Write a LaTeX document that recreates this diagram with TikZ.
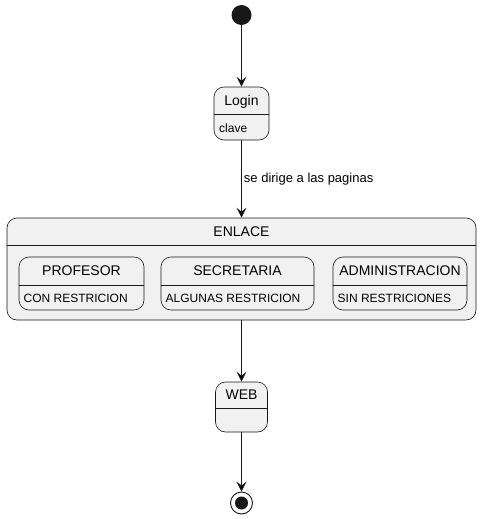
\documentclass[tikz,border=0pt]{standalone}
\usepackage{fontspec}
\setmainfont{Liberation Sans}
\usepackage{tikz}
\usetikzlibrary{arrows.meta}
\definecolor{stfill}{HTML}{F1F1F1}
\definecolor{stline}{HTML}{181818}
\newcommand{\bigtxt}{\fontsize{14}{16}\selectfont}
\newcommand{\smalltxt}{\fontsize{12}{14}\selectfont}

\begin{document}
\begin{tikzpicture}[x=1pt,y=-1pt,
  state/.style={draw=stline, fill=stfill, rounded corners=10pt, line width=0.6pt, inner sep=0pt},
  sep/.style={draw=stline, line width=0.6pt},
  stdesc/.style={anchor=west, inner sep=0pt, font=\smalltxt},
  stname/.style={inner sep=0pt, font=\bigtxt},
  trans/.style={draw=stline, line width=0.9pt, -{Stealth[length=10pt,width=10pt,inset=4pt]}}]
\useasboundingbox (0,0) rectangle (482,519);
\node[shape=circle, fill=stline, minimum size=20pt, inner sep=0pt](start) at (241.5,15) {};
% Login
\node[state, minimum width=55pt, minimum height=53pt](login) at (241.5,113.5) {};
\draw[sep] (login.west |- 0,114) -- (login.east |- 0,114);
\node[stname](loginname) at (241.5,102) {Login};
\node[stdesc](logindesc) at (219,128) {clave};
% ENLACE
\node[state, minimum width=469pt, minimum height=102pt](enlace) at (241.5,269) {};
\draw[sep] (enlace.west |- 0,245) -- (enlace.east |- 0,245);
\node[stname](enlacename) at (241.5,232) {ENLACE};
\node[state, minimum width=125pt, minimum height=53pt](prof) at (81.5,283.5) {};
\draw[sep] (prof.west |- 0,285) -- (prof.east |- 0,285);
\node[stname](profname) at (81.5,271) {PROFESOR};
\node[stdesc](profdesc) at (23.5,298.5) {CON RESTRICION};
\node[state, minimum width=153pt, minimum height=53pt](secr) at (237.5,283.5) {};
\draw[sep] (secr.west |- 0,285) -- (secr.east |- 0,285);
\node[stname](secrname) at (237.5,271) {SECRETARIA};
\node[stdesc](secrdesc) at (165.5,298.5) {ALGUNAS RESTRICION};
\node[state, minimum width=134pt, minimum height=53pt](admin) at (400,283.5) {};
\draw[sep] (admin.west |- 0,285) -- (admin.east |- 0,285);
\node[stname](adminname) at (400,271) {ADMINISTRACION};
\node[stdesc](admindesc) at (337.5,298.5) {SIN RESTRICIONES};
% WEB
\node[state, minimum width=52pt, minimum height=50pt](web) at (241.5,407) {};
\draw[sep] (web.west |- 0,408) -- (web.east |- 0,408);
\node[stname](webname) at (241.5,395) {WEB};
% fin
\node[shape=circle, draw=stline, line width=0.9pt, minimum size=22pt, inner sep=0pt](stop) at (241.5,503) {};
\fill[stline] (stop.center) circle (6.5pt);
\path[trans] (start) edge (login);
\path[trans] (login) edge node[right, font=\fontsize{13}{15}\selectfont, inner sep=2pt] {se dirige a las paginas} (enlace);
\path[trans] (enlace) edge (web);
\path[trans] (web) edge (stop);
\end{tikzpicture}
\end{document}
